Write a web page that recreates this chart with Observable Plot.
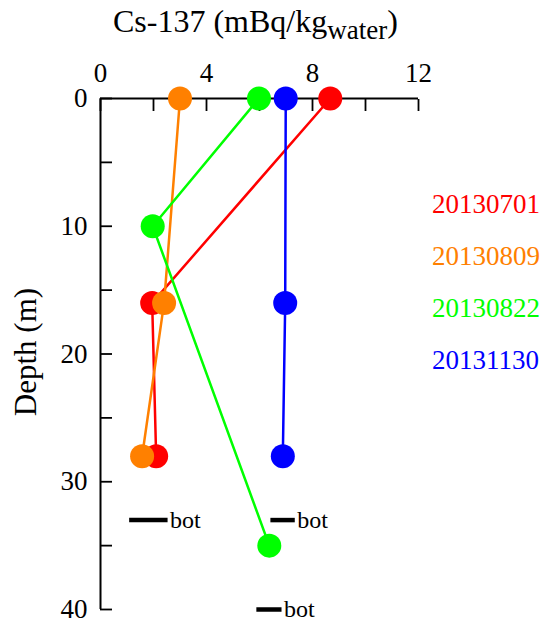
<!DOCTYPE html>
<html><head><meta charset="utf-8">
<script src="https://cdn.jsdelivr.net/npm/d3@7"></script>
<script src="https://cdn.jsdelivr.net/npm/@observablehq/plot@0.6"></script>
<style>body{margin:0;background:#fff} #chart{position:relative;width:542px;height:627px}</style>
</head><body><div id="chart"></div>
<script>
const series = ["20130701", "20130809", "20130822", "20131130"];
const seriesColors = ["#ff0000", "#ff8000", "#00ff00", "#0000ff"];
const depth0701 = [0, 16, 28]; const cs0701 = [8.67, 1.95, 2.1];
const depth0809 = [0, 16, 28]; const cs0809 = [3.0, 2.4, 1.57];
const depth0822 = [0, 10, 35]; const cs0822 = [5.98, 1.97, 6.37];
const depth1130 = [0, 16, 28]; const cs1130 = [6.99, 6.97, 6.88];
const botDepth = [33, 33, 40];
const botX1 = [1.1, 6.43, 5.9];
const botX2 = [2.55, 7.35, 6.85];
const xTicks = [0, 2, 4, 6, 8, 10, 12];
const xTickLabels = [0, 4, 8, 12];
const yTicks = [0, 5, 10, 15, 20, 25, 30, 35, 40];
const yTickLabels = [0, 10, 20, 30, 40];
const titleMain = "Cs-137 (mBq/kg";
const titleSub = "water";
const yLabel = "Depth (m)";
const botLabel = "bot";

const depths = [depth0701, depth0809, depth0822, depth1130];
const values = [cs0701, cs0809, cs0822, cs1130];
const rows = [];
series.forEach((s, i) => depths[i].forEach((d, j) => rows.push({series: s, depth: d, cs: values[i][j]})));
const bots = botDepth.map((d, i) => ({depth: d, x1: botX1[i], x2: botX2[i]}));

const font = "'Liberation Serif', 'Times New Roman', serif";
const plot = Plot.plot({
  width: 542, height: 627,
  marginTop: 98, marginLeft: 100, marginRight: 124, marginBottom: 18,
  style: {fontFamily: font, fontSize: "27px", color: "#000", background: "#fff", overflow: "visible"},
  x: {domain: [0, 12]},
  y: {domain: [0, 40], reverse: true},
  color: {domain: series, range: seriesColors},
  marks: [
    Plot.axisX({anchor: "top", ticks: xTickLabels, tickSize: 0, tickPadding: 17, fontSize: 27, label: null}),
    Plot.axisX({anchor: "top", ticks: xTicks, tickSize: -12, tickFormat: () => "", strokeWidth: 1.8, label: null}),
    Plot.axisY({anchor: "left", ticks: yTickLabels, tickSize: 0, tickPadding: 13, fontSize: 27, label: null}),
    Plot.axisY({anchor: "left", ticks: yTicks, tickSize: -12, tickFormat: () => "", strokeWidth: 1.8, label: null}),
    Plot.ruleY([0], {strokeWidth: 2}),
    Plot.ruleX([0], {strokeWidth: 2}),
    Plot.line(rows, {x: "cs", y: "depth", z: "series", stroke: "series", strokeWidth: 2.5}),
    Plot.dot(rows, {x: "cs", y: "depth", fill: "series", r: 12}),
    Plot.ruleY(bots, {y: "depth", x1: "x1", x2: "x2", strokeWidth: 4.5, stroke: "#000"}),
    Plot.text(bots, {x: "x2", y: "depth", text: () => botLabel, textAnchor: "start", dx: 2, fontSize: 24, fill: "#000"})
  ]
});

const svg = d3.select(plot);
const t = svg.append("text").attr("x", 113).attr("y", 32).attr("text-anchor", "start")
  .attr("font-family", font).attr("font-size", 32).attr("fill", "#000");
t.append("tspan").text(titleMain);
t.append("tspan").attr("dy", 7).attr("font-size", 27).text(titleSub);
t.append("tspan").attr("dy", -7).text(")");

svg.append("text").attr("transform", "translate(36,352) rotate(-90)").attr("text-anchor", "middle")
  .attr("font-family", font).attr("font-size", 31).attr("fill", "#000").text(yLabel);

series.forEach((s, i) => {
  svg.append("text").attr("x", 432).attr("y", 213 + 52 * i).attr("text-anchor", "start")
    .attr("font-family", font).attr("font-size", 27).attr("fill", seriesColors[i]).text(s);
});

document.getElementById("chart").appendChild(plot);
</script>
</body></html>
